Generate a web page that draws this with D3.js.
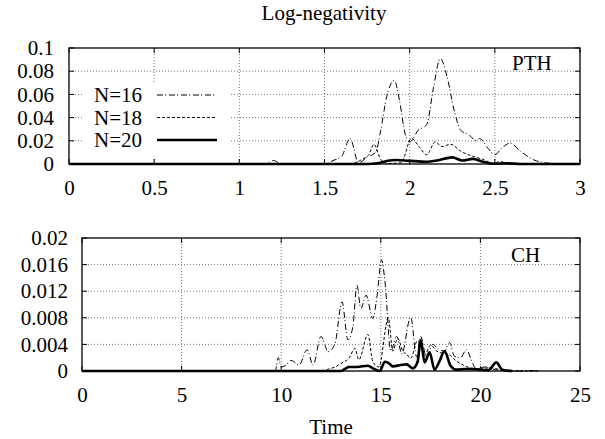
<!DOCTYPE html>
<html>
<head>
<meta charset="utf-8">
<script src="https://cdn.jsdelivr.net/npm/d3@7"></script>
<style>
  body { margin: 0; background: #fff; }
  svg text { font-family: "Liberation Serif", "Times New Roman", serif; fill: #000; }
</style>
</head>
<body>
<svg id="chart" width="605" height="439"></svg>
<script>
// series labels, in legend order
const seriesNames = ['N=16', 'N=18', 'N=20'];

// PTH panel: [time, log-negativity]
const pth16 = [[0, 0], [1.15, 0], [1.2, 0.003], [1.25, 0], [1.5, 0], [1.55, 0.003], [1.6, 0.0065], [1.65, 0.022], [1.7, 0.001],
  [1.75, 0.006], [1.8, 0.01], [1.83, 0.029], [1.865, 0.058], [1.91, 0.072], [1.94, 0.055], [1.975, 0.025], [2.0, 0.019],
  [2.05, 0.029], [2.1, 0.034], [2.14, 0.066], [2.18, 0.091], [2.22, 0.075], [2.26, 0.047], [2.3, 0.029], [2.35, 0.025],
  [2.39, 0.02], [2.41, 0.022], [2.46, 0.0135], [2.5, 0.008], [2.54, 0.0135], [2.59, 0.018], [2.65, 0.011], [2.73, 0.0035],
  [2.8, 0.001], [2.9, 0], [3, 0.0007]];
const pth18 = [[0, 0], [1.6, 0], [1.68, 0.001], [1.72, 0.004], [1.76, 0.008], [1.79, 0.017], [1.83, 0.004], [1.87, 0.0005],
  [1.95, 0.001], [2.01, 0.022], [2.06, 0.014], [2.1, 0.008], [2.15, 0.019], [2.19, 0.015], [2.24, 0.017], [2.3, 0.011],
  [2.37, 0.0066], [2.43, 0.004], [2.49, 0.0006], [2.53, 0.002], [2.6, 0], [3, 0]];
const pth20 = [[0, 0], [1.75, 0], [1.82, 0.0008], [1.88, 0.003], [1.92, 0.0034], [2.0, 0.0027], [2.1, 0.002], [2.16, 0.003],
  [2.25, 0.0057], [2.31, 0.003], [2.37, 0.0044], [2.43, 0.002], [2.5, 0.0002], [2.57, 0.0006], [2.65, 0], [3, 0]];

// CH panel: [time, log-negativity]
const ch16 = [[0, 0], [9.7, 0], [9.85, 0.002], [10.0, 0.0006], [10.2, 0.0008], [10.5, 0.0016], [10.9, 0.0009], [11.3, 0.0032],
  [11.6, 0.0009], [12.0, 0.0052], [12.36, 0.0029], [12.7, 0.0041], [13.05, 0.0104], [13.35, 0.0047], [13.6, 0.0067],
  [13.8, 0.0129], [14.0, 0.0094], [14.26, 0.0114], [14.6, 0.0079], [14.8, 0.011], [15.04, 0.0167], [15.2, 0.0137],
  [15.5, 0.003], [15.8, 0.0052], [16.05, 0.0026], [16.5, 0.0081], [16.8, 0.0021], [17.0, 0.0052], [17.3, 0.002],
  [17.6, 0.004], [17.9, 0.0033], [18.2, 0.003], [18.45, 0.0043], [18.7, 0.0022], [19.0, 0.002], [19.3, 0.0032],
  [19.6, 0.0012], [19.8, 0.0003], [20.0, 0.0005], [20.3, 0.0006], [20.6, 0.0003], [21.0, 0.0001], [22, 0], [23, 0.0001]];
const ch18 = [[0, 0], [12.0, 0], [12.4, 0.0003], [12.7, 0.0006], [13.1, 0.0013], [13.4, 0.0019], [13.7, 0.0034], [13.9, 0.0017],
  [14.35, 0.0055], [14.6, 0.0014], [14.9, 0.0006], [15.38, 0.008], [15.6, 0.003], [15.85, 0.0049], [16.1, 0.003],
  [16.3, 0.0025], [16.5, 0.0019], [16.85, 0.0046], [17.2, 0.0024], [17.5, 0.0039], [17.8, 0.003], [18.05, 0.0027],
  [18.4, 0.0025], [18.8, 0.0015], [19.2, 0.0008], [19.6, 0.0004], [20.0, 0.0003], [20.5, 0.0005], [21.0, 0.0002],
  [21.5, 0], [23, 0]];
const ch20 = [[0, 0], [13.0, 0], [13.2, 0.0003], [13.4, 0.0006], [13.8, 0.0006], [14.35, 0.0008], [14.6, 0.0004], [14.95, 0],
  [15.2, 0.0014], [15.4, 0.0012], [15.6, 0.0007], [16.0, 0.0009], [16.3, 0.001], [16.6, 0.0004], [16.85, 0.0014],
  [17.0, 0.0047], [17.2, 0.0013], [17.45, 0.0028], [17.7, 0.0002], [17.95, 0.0015], [18.2, 0.003], [18.5, 0.0008],
  [18.8, 0.0002], [19.2, 0.0003], [19.6, 0.0003], [20.0, 0.0002], [20.4, 0.0001], [20.8, 0.0013], [21.1, 0.0002], [21.6, 0]];

// tick values
const pthXTicks = [0, 0.5, 1, 1.5, 2, 2.5, 3];
const pthYTicks = [0, 0.02, 0.04, 0.06, 0.08, 0.1];
const chXTicks = [0, 5, 10, 15, 20, 25];
const chYTicks = [0, 0.004, 0.008, 0.012, 0.016, 0.02];

const styles = [
  { dash: '6,2,1,3', width: 1 },   // N=16 dash-dot
  { dash: '3,2', width: 1 },       // N=18 dashed
  { dash: null, width: 2.6 }       // N=20 solid thick
];

const svg = d3.select('#chart');
const FS = 21;
const SERIF = '"Liberation Serif", "Times New Roman", serif';

svg.append('text')
  .attr('x', 324).attr('y', 20)
  .attr('text-anchor', 'middle')
  .style('font-size', FS + 'px')
  .text('Log-negativity');

function panel (opt) {
  const x = d3.scaleLinear().domain(opt.xDomain).range([opt.left, opt.right]);
  const y = d3.scaleLinear().domain(opt.yDomain).range([opt.bottom, opt.top]);
  const g = svg.append('g');

  // dotted grid
  g.selectAll('.vg').data(opt.xTicks.slice(1, -1)).enter().append('line')
    .attr('x1', d => x(d)).attr('x2', d => x(d))
    .attr('y1', opt.top).attr('y2', opt.bottom)
    .attr('stroke', '#777').attr('stroke-width', 1).attr('stroke-dasharray', '1,2');
  g.selectAll('.hg').data(opt.yTicks.slice(1, -1)).enter().append('line')
    .attr('x1', opt.left).attr('x2', opt.right)
    .attr('y1', d => y(d)).attr('y2', d => y(d))
    .attr('stroke', '#777').attr('stroke-width', 1).attr('stroke-dasharray', '1,2');

  // axes (labels only; ticks drawn inward below)
  const fmt = d => String(d);
  const ax = g.append('g')
    .attr('transform', 'translate(0,' + opt.bottom + ')')
    .call(d3.axisBottom(x).tickValues(opt.xTicks).tickFormat(fmt).tickSize(0).tickPadding(opt.xPad));
  const ay = g.append('g')
    .attr('transform', 'translate(' + opt.left + ',0)')
    .call(d3.axisLeft(y).tickValues(opt.yTicks).tickFormat(fmt).tickSize(0).tickPadding(opt.yPad));
  [ax, ay].forEach(a => {
    a.attr('font-family', null).attr('font-size', null);
    a.select('.domain').remove();
    a.selectAll('text').style('font-size', FS + 'px').style('font-family', SERIF);
  });

  // inward tick marks on all four sides
  const tl = 5;
  opt.xTicks.forEach(t => {
    g.append('line').attr('x1', x(t)).attr('x2', x(t)).attr('y1', opt.bottom).attr('y2', opt.bottom - tl).attr('stroke', '#000');
    g.append('line').attr('x1', x(t)).attr('x2', x(t)).attr('y1', opt.top).attr('y2', opt.top + tl).attr('stroke', '#000');
  });
  opt.yTicks.forEach(t => {
    g.append('line').attr('x1', opt.left).attr('x2', opt.left + tl).attr('y1', y(t)).attr('y2', y(t)).attr('stroke', '#000');
    g.append('line').attr('x1', opt.right).attr('x2', opt.right - tl).attr('y1', y(t)).attr('y2', y(t)).attr('stroke', '#000');
  });

  const line = d3.line()
    .x(d => x(d[0]))
    .y(d => y(d[1]))
    .curve(d3.curveMonotoneX);

  opt.series.forEach((s, i) => {
    g.append('path')
      .datum(s)
      .attr('d', line)
      .attr('fill', 'none')
      .attr('stroke', '#000')
      .attr('stroke-width', styles[i].width)
      .attr('stroke-linejoin', 'round')
      .attr('stroke-dasharray', styles[i].dash);
  });

  if (opt.legend) {
    g.append('rect')
      .attr('x', 83).attr('y', 83).attr('width', 148).attr('height', 75)
      .attr('fill', '#fff');
    seriesNames.forEach((name, i) => {
      const ly = 95 + i * 22.5;
      g.append('text')
        .attr('x', 142).attr('y', ly + 7)
        .attr('text-anchor', 'end')
        .style('font-size', FS + 'px')
        .text(name);
      g.append('line')
        .attr('x1', 157).attr('x2', 217).attr('y1', ly).attr('y2', ly)
        .attr('stroke', '#000')
        .attr('stroke-width', styles[i].width)
        .attr('stroke-dasharray', styles[i].dash);
    });
  }

  g.append('text')
    .attr('x', opt.tagX).attr('y', opt.tagY)
    .style('font-size', FS + 'px')
    .text(opt.tag);

  g.append('rect')
    .attr('x', opt.left).attr('y', opt.top)
    .attr('width', opt.right - opt.left).attr('height', opt.bottom - opt.top)
    .attr('fill', 'none').attr('stroke', '#000').attr('stroke-width', 1.3);
}

panel({
  left: 69, right: 580, top: 48, bottom: 164,
  xDomain: [0, 3], yDomain: [0, 0.1],
  xTicks: pthXTicks, yTicks: pthYTicks,
  xPad: 16, yPad: 15,
  series: [pth16, pth18, pth20],
  legend: true,
  tag: 'PTH', tagX: 512, tagY: 70
});

panel({
  left: 82, right: 580, top: 238, bottom: 371,
  xDomain: [0, 25], yDomain: [0, 0.02],
  xTicks: chXTicks, yTicks: chYTicks,
  xPad: 16, yPad: 14,
  series: [ch16, ch18, ch20],
  legend: false,
  tag: 'CH', tagX: 511, tagY: 262
});

svg.append('text')
  .attr('x', 331).attr('y', 434)
  .attr('text-anchor', 'middle')
  .style('font-size', FS + 'px')
  .text('Time');
</script>
</body>
</html>
